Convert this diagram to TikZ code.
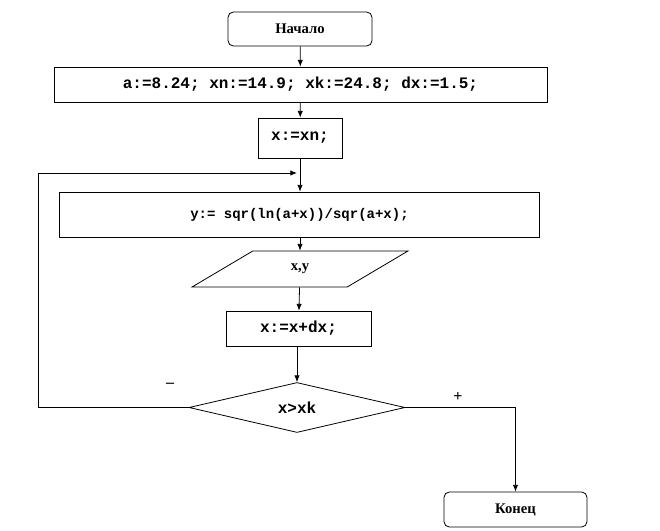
\documentclass[tikz,border=0pt]{standalone}
\usepackage{fontspec}
\setmainfont{Liberation Serif}
\setmonofont{Liberation Mono}
\usetikzlibrary{shapes.geometric,arrows.meta}

\tikzset{
  base/.style={draw=black, line width=0.6pt, inner sep=0pt},
  term/.style={base, rounded corners=4pt, font=\fontsize{11}{13}\selectfont\bfseries},
  proc/.style={base, rectangle, font=\fontsize{12}{14}\selectfont\ttfamily\bfseries},
  io/.style={base, trapezium, trapezium left angle=40, trapezium right angle=140,
    trapezium stretches=true, font=\fontsize{11}{13}\selectfont\bfseries},
  cond/.style={base, diamond, font=\fontsize{12}{14}\selectfont\ttfamily\bfseries},
  arr/.style={line width=0.6pt, -{Latex[length=5pt,width=4pt]}},
  lbl/.style={font=\fontsize{12}{14}\selectfont\bfseries}
}

\begin{document}
\begin{tikzpicture}[x=0.75pt, y=-0.75pt]
\useasboundingbox (0,0) rectangle (660,531);
\node [term, minimum width=108pt, minimum height=25.5pt] (start) at (300,29) {Начало};
\node [proc, minimum width=369.75pt, minimum height=26.25pt] (init) at (300.5,84.5) {a:=8.24; xn:=14.9; xk:=24.8; dx:=1.5;};
\node [proc, minimum width=63pt, minimum height=30pt] (xn) at (300,138) {x:=xn;};
\node [proc, minimum width=360pt, minimum height=33.75pt, font=\fontsize{10.5}{13}\selectfont\ttfamily\bfseries] (calc) at (299.5,214.5) {y:= sqr(ln(a+x))/sqr(a+x);};
\node [io, minimum width=162pt, minimum height=27pt] (out) at (300,269) {x,y};
\node [proc, minimum width=108.75pt, minimum height=26.25pt] (step) at (298.5,328.5) {x:=x+dx;};
\node [cond, minimum width=162pt, minimum height=35.25pt] (check) at (297,407.5) {x>xk};
\node [term, minimum width=107.25pt, minimum height=26.25pt] (stop) at (515.5,509.5) {Конец};
\node [lbl] (no) at (170,385) {–};
\node [lbl] (yes) at (458,397) {+};
\coordinate (back) at (38,407.5);
\coordinate (join) at (297,173);
\draw [arr] (start) -- (init);
\draw [arr] (init) -- (xn);
\draw [arr] (xn.south) -- (xn.south |- calc.north);
\draw [arr] (calc.south -| out.north) -- (out.north);
\draw [arr] (out) -- (step);
\draw [arr] (step.south -| check.north) -- (check.north);
\draw [arr] (check.west) -- (back) |- (join);
\draw [arr] (check.east) -| (stop.north);
\end{tikzpicture}
\end{document}
